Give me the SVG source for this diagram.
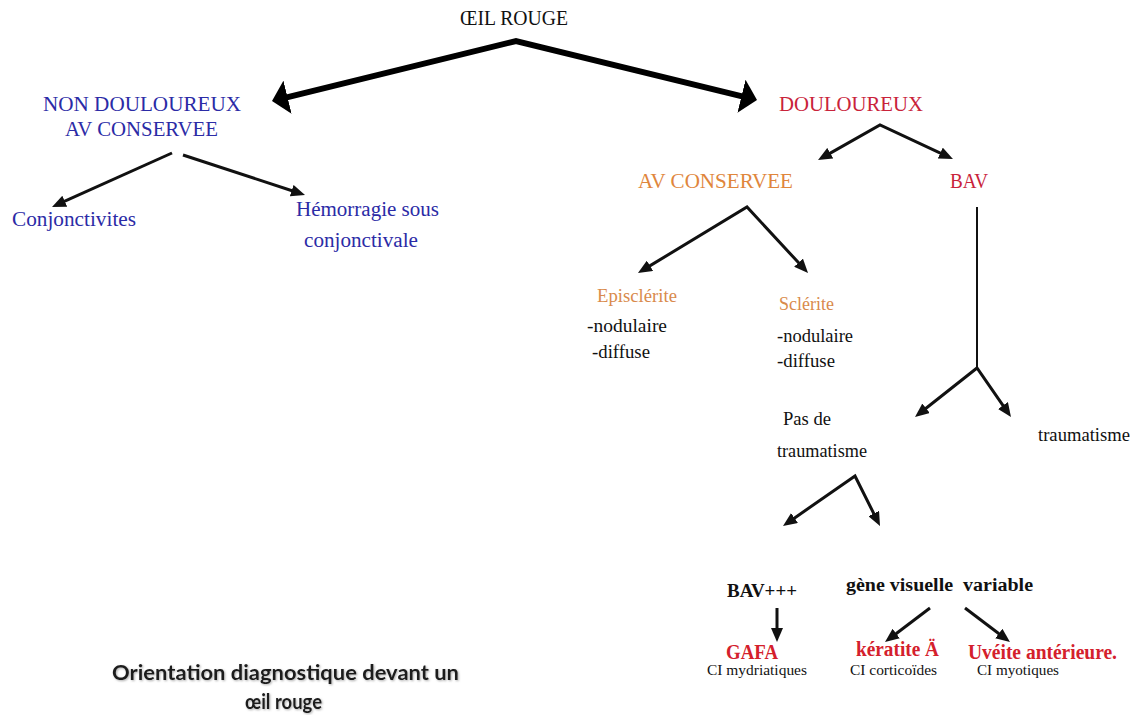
<svg xmlns="http://www.w3.org/2000/svg" width="1132" height="715" viewBox="0 0 1132 715">
<style>
  .t { font-family: "Liberation Serif", "Times New Roman", serif; font-size: 20px; }
  .s18 { font-size: 18px; }
  .s14 { font-size: 14px; }
  .b { font-weight: bold; }
  .blue { fill: #2b2ba6; }
  .red { fill: #c9233a; }
  .org { fill: #e0863c; }
  .org2 { fill: #d98a4c; }
  .blk { fill: #111111; }
  .bred { fill: #d4202c; }
  .title { font-family: Lato, "Liberation Sans", Arial, sans-serif; font-weight: bold; font-size: 20px; fill: #1c1c1c; }
  .thin { fill: none; stroke: #111; stroke-width: 3; stroke-linejoin: miter; marker-start: url(#ah); marker-end: url(#ah); }
  .one { fill: none; stroke: #111; stroke-width: 3; marker-end: url(#ah); }
  .thick { fill: none; stroke: #000; stroke-width: 6; stroke-linejoin: miter; marker-start: url(#ahBig); marker-end: url(#ahBig); }
</style>
<defs>
  <marker id="ah" viewBox="0 0 14 12" refX="6" refY="6" markerWidth="14" markerHeight="12" markerUnits="userSpaceOnUse" orient="auto-start-reverse">
    <path d="M0,0 L14,6 L0,12 z" fill="#111"/>
  </marker>
  <marker id="ahBig" viewBox="0 0 16 34" refX="6" refY="17" markerWidth="16" markerHeight="34" markerUnits="userSpaceOnUse" orient="auto-start-reverse">
    <path d="M0,0 L16,17 L0,34 z" fill="#000"/>
  </marker>
  <filter id="shadow" x="-5%" y="-30%" width="110%" height="160%">
    <feDropShadow dx="1" dy="1" stdDeviation="1" flood-color="#777" flood-opacity="0.6"/>
  </filter>
</defs>
<rect width="1132" height="715" fill="#ffffff"/>

<g id="connectors">
  <path class="thick" d="M281.7,98.6 L516,41 L747.3,97.6"/>
  <path class="one" d="M172,153 L59.3,203.7"/>
  <path class="one" d="M183,155 L297.4,192.5"/>
  <path class="thin" d="M825,156.1 L880,125 L945.7,155.6"/>
  <path class="thin" d="M644.8,268.9 L747,207 L802.6,267.1"/>
  <line x1="977" y1="207" x2="977" y2="368" stroke="#111" stroke-width="2"/>
  <path class="thin" d="M921.3,412 L977,368 L1006.4,410.4"/>
  <path class="thin" d="M789.6,521.4 L855,476 L876.4,518.8"/>
  <path class="one" d="M777,608 L777,634"/>
  <path class="one" d="M930,608 L891.4,637.2"/>
  <path class="one" d="M965,608 L1003.6,637.2"/>
</g>

<g id="oeil-rouge">
  <text class="t blk" x="460" y="25" font-size="19" textLength="108" lengthAdjust="spacingAndGlyphs">ŒIL ROUGE</text>
</g>
<g id="non-douloureux">
  <text class="t blue" x="43" y="111" textLength="198" lengthAdjust="spacingAndGlyphs">NON DOULOUREUX</text>
  <text class="t blue" x="65" y="136" textLength="153" lengthAdjust="spacingAndGlyphs">AV CONSERVEE</text>
</g>
<g id="conjonctivites">
  <text class="t blue" x="12" y="226" textLength="124" lengthAdjust="spacingAndGlyphs">Conjonctivites</text>
</g>
<g id="hemorragie">
  <text class="t blue" x="296" y="216" textLength="143" lengthAdjust="spacingAndGlyphs">Hémorragie sous</text>
  <text class="t blue" x="304" y="247" textLength="114" lengthAdjust="spacingAndGlyphs">conjonctivale</text>
</g>
<g id="douloureux">
  <text class="t red" x="779" y="111" textLength="144" lengthAdjust="spacingAndGlyphs">DOULOUREUX</text>
</g>
<g id="av-conservee">
  <text class="t org" x="638" y="188" textLength="155" lengthAdjust="spacingAndGlyphs">AV CONSERVEE</text>
</g>
<g id="bav">
  <text class="t red" x="950" y="188" textLength="38" lengthAdjust="spacingAndGlyphs">BAV</text>
</g>
<g id="episclerite">
  <text class="t s18 org2" x="597" y="302" textLength="80" lengthAdjust="spacingAndGlyphs">Episclérite</text>
  <text class="t s18 blk" x="587" y="332" textLength="80" lengthAdjust="spacingAndGlyphs">-nodulaire</text>
  <text class="t s18 blk" x="592" y="358" textLength="58" lengthAdjust="spacingAndGlyphs">-diffuse</text>
</g>
<g id="sclerite">
  <text class="t s18 org2" x="779" y="310" textLength="55" lengthAdjust="spacingAndGlyphs">Sclérite</text>
  <text class="t s18 blk" x="777" y="342" textLength="76" lengthAdjust="spacingAndGlyphs">-nodulaire</text>
  <text class="t s18 blk" x="777" y="367" textLength="58" lengthAdjust="spacingAndGlyphs">-diffuse</text>
</g>
<g id="pas-de-traumatisme">
  <text class="t s18 blk" x="783" y="425" textLength="48" lengthAdjust="spacingAndGlyphs">Pas de</text>
  <text class="t s18 blk" x="777" y="457" textLength="90" lengthAdjust="spacingAndGlyphs">traumatisme</text>
</g>
<g id="traumatisme">
  <text class="t s18 blk" x="1038" y="441" textLength="92" lengthAdjust="spacingAndGlyphs">traumatisme</text>
</g>
<g id="bav-plus">
  <text class="t s18 b blk" x="727" y="597" textLength="70" lengthAdjust="spacingAndGlyphs">BAV+++</text>
</g>
<g id="gene-visuelle">
  <text class="t s18 b blk" x="846" y="591" xml:space="preserve" textLength="187" lengthAdjust="spacingAndGlyphs">gène visuelle  variable</text>
</g>
<g id="gafa">
  <text class="t b bred" x="726" y="659" font-size="19" textLength="52" lengthAdjust="spacingAndGlyphs">GAFA</text>
  <text class="t s14 blk" x="707" y="675" textLength="100" lengthAdjust="spacingAndGlyphs">CI mydriatiques</text>
</g>
<g id="keratite">
  <text class="t b bred" x="856" y="656" font-size="19" textLength="83" lengthAdjust="spacingAndGlyphs">kératite Ä</text>
  <text class="t s14 blk" x="850" y="675" textLength="87" lengthAdjust="spacingAndGlyphs">CI corticoïdes</text>
</g>
<g id="uveite">
  <text class="t b bred" x="968" y="659" font-size="19" textLength="149" lengthAdjust="spacingAndGlyphs">Uvéite antérieure.</text>
  <text class="t s14 blk" x="977" y="675" textLength="82" lengthAdjust="spacingAndGlyphs">CI myotiques</text>
</g>
<g id="title" filter="url(#shadow)">
  <text class="title" x="112" y="680" textLength="347" lengthAdjust="spacingAndGlyphs">Orientation diagnostique devant un</text>
  <text class="title" x="245" y="709" textLength="77" lengthAdjust="spacingAndGlyphs">œil rouge</text>
</g>
</svg>
